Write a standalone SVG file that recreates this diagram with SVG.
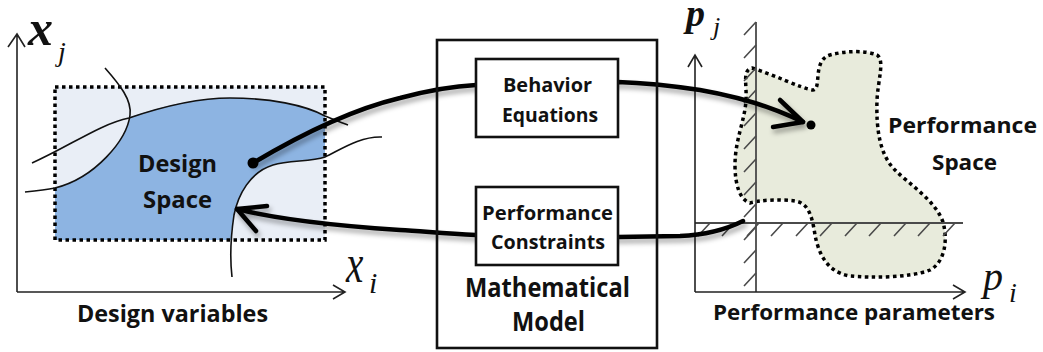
<svg xmlns="http://www.w3.org/2000/svg" width="1043" height="352" viewBox="0 0 1043 352">
<style>
.lbl{font-family:"Open Sans","Liberation Sans",sans-serif;font-weight:bold;fill:#111}
.math{font-family:"Liberation Serif","Times New Roman",serif;font-style:italic;fill:#111}
.curve{fill:none;stroke:#111;stroke-width:1.6}
.axis{fill:none;stroke:#222;stroke-width:1.6}
.cons{fill:none;stroke:#4a4a4a;stroke-width:1.8}
.hatch{fill:none;stroke:#4a4a4a;stroke-width:1.6}
.box{fill:#fff;stroke:#111;stroke-width:2.6}
.arrow{fill:none;stroke:#000;stroke-width:4.5;stroke-linecap:round;stroke-linejoin:round}
.dotted{stroke:#000;stroke-width:3.5;stroke-dasharray:3.5 3.5}
</style>
<defs>
<filter id="shadow" x="-10%" y="-30%" width="120%" height="160%">
<feDropShadow dx="2" dy="4" stdDeviation="2.5" flood-color="#000" flood-opacity="0.35"/>
</filter>
</defs>
<rect width="1043" height="352" fill="#fff"/>

<g id="design-space">
<rect x="55" y="87" width="270" height="153" fill="#e9eef6"/>
<path d="M55,188 C95,178 127,140 130,117 C170,104 200,98 230,98 C270,98 305,105 325,116 L325,157 C310,162 290,160 273,165 C250,172 238,195 234,215 C232,225 231,233 231,240 L55,240 Z" fill="#8db4e2"/>
<rect x="55" y="87" width="270" height="153" fill="none" class="dotted"/>
<path class="curve" d="M32,163 C70,146 100,124 129,118 C170,104 200,98 230,98 C270,98 305,105 325,116 C335,120 342,123 348,125"/>
<path class="curve" d="M105,68 C120,85 132,100 130,115 C127,140 95,178 55,188 C45,190 35,191 25,192"/>
<path class="curve" d="M382,137 C360,136 340,150 325,157 C310,162 290,160 273,165 C250,172 238,195 234,215 C231,235 230,260 232,277"/>
<path class="axis" d="M17,292 L17,34 M8,47 L17,34 L25,47 M17,292 L345,292 M333,285 L345,292 L333,299"/>
<text class="math" font-size="50" font-weight="bold" x="28" y="45">x</text>
<text class="math" font-size="28" x="58" y="61">j</text>
<text class="math" font-size="46" transform="translate(346,282) scale(0.85,1.2)">x</text>
<text class="math" font-size="30" x="369" y="293">i</text>
<text class="lbl" font-size="23" x="138" y="172" textLength="79" lengthAdjust="spacingAndGlyphs">Design</text>
<text class="lbl" font-size="23" x="143" y="208" textLength="69" lengthAdjust="spacingAndGlyphs">Space</text>
<text class="lbl" font-size="24" x="77" y="322" textLength="191" lengthAdjust="spacingAndGlyphs">Design variables</text>
</g>

<g id="performance-space">
<path d="M752,68 C775,75 800,88 813,90 C822,90 812,60 830,55 C845,51 865,50 877,55 C885,60 878,80 877,100 C876,130 880,155 895,170 C910,185 935,200 943,222 C948,240 945,262 930,270 C910,278 870,278 850,276 C825,272 818,250 815,235 C812,215 808,203 795,201 C780,199 760,200 750,203 C740,200 735,185 735,165 C735,140 745,120 746,100 C747,85 742,70 752,68 Z" fill="#e8ebdc" class="dotted"/>
<path class="cons" d="M756,22 L756,292 M695,223 L963,223"/>
<path class="hatch" d="M744,35 L756,22 M744,58 L756,45 M744,81 L756,68 M744,103 L756,90 M744,126 L756,113 M744,149 L756,136 M744,172 L756,159 M744,195 L756,182 M744,217 L756,204 M744,240 L756,227 M744,263 L756,250 M744,286 L756,273 M698,236 L710,223 M722,236 L734,223 M747,236 L759,223 M771,236 L783,223 M796,236 L808,223 M820,236 L832,223 M845,236 L857,223 M869,236 L881,223 M894,236 L906,223 M918,236 L930,223 M943,236 L955,223"/>
<path class="axis" d="M695,292 L695,55 M688,67 L695,55 L702,67 M695,292 L965,292 M953,285 L965,292 L953,299"/>
<text class="math" font-size="38" font-weight="bold" x="686" y="26">p</text>
<text class="math" font-size="26" x="713" y="35">j</text>
<text class="math" font-size="40" x="983" y="290">p</text>
<text class="math" font-size="28" x="1009" y="302">i</text>
<text class="lbl" font-size="22" x="888" y="133" textLength="149" lengthAdjust="spacingAndGlyphs">Performance</text>
<text class="lbl" font-size="22" x="932" y="170" textLength="65" lengthAdjust="spacingAndGlyphs">Space</text>
<text class="lbl" font-size="21" x="713" y="320" textLength="282" lengthAdjust="spacingAndGlyphs">Performance parameters</text>
</g>

<g id="connectors" filter="url(#shadow)">
<path class="arrow" d="M253,163 C300,135 350,110 400,98 C430,90 455,86 476,85 L618,82 C650,83 680,87 700,90 C740,97 775,108 803,122"/>
<path class="arrow" d="M780,100 L803,122 L773,127"/>
<path class="arrow" d="M743,221 C725,230 705,235 680,236 L618,237 L476,235 C440,233 420,231 400,230 C340,226 280,220 237,209"/>
<path class="arrow" d="M267,206 L237,209 L256,231"/>
</g>

<g id="dots">
<circle cx="253" cy="163" r="5.5" fill="#000"/>
<circle cx="811" cy="125" r="4.5" fill="#000"/>
</g>

<g id="math-model">
<rect x="437" y="40" width="220" height="308" fill="none" stroke="#111" stroke-width="2.6"/>
<text class="lbl" font-size="26" x="465" y="297" textLength="165" lengthAdjust="spacingAndGlyphs">Mathematical</text>
<text class="lbl" font-size="26" x="512" y="331" textLength="73" lengthAdjust="spacingAndGlyphs">Model</text>
</g>

<g id="behavior-eq">
<rect class="box" x="476" y="59" width="142" height="78"/>
<text class="lbl" font-size="19" x="503" y="92" textLength="89" lengthAdjust="spacingAndGlyphs">Behavior</text>
<text class="lbl" font-size="19" x="502" y="122" textLength="96" lengthAdjust="spacingAndGlyphs">Equations</text>
</g>

<g id="perf-constraints">
<rect class="box" x="476" y="187" width="142" height="78"/>
<text class="lbl" font-size="20" x="482" y="220" textLength="131" lengthAdjust="spacingAndGlyphs">Performance</text>
<text class="lbl" font-size="20" x="491" y="249" textLength="114" lengthAdjust="spacingAndGlyphs">Constraints</text>
</g>
</svg>
